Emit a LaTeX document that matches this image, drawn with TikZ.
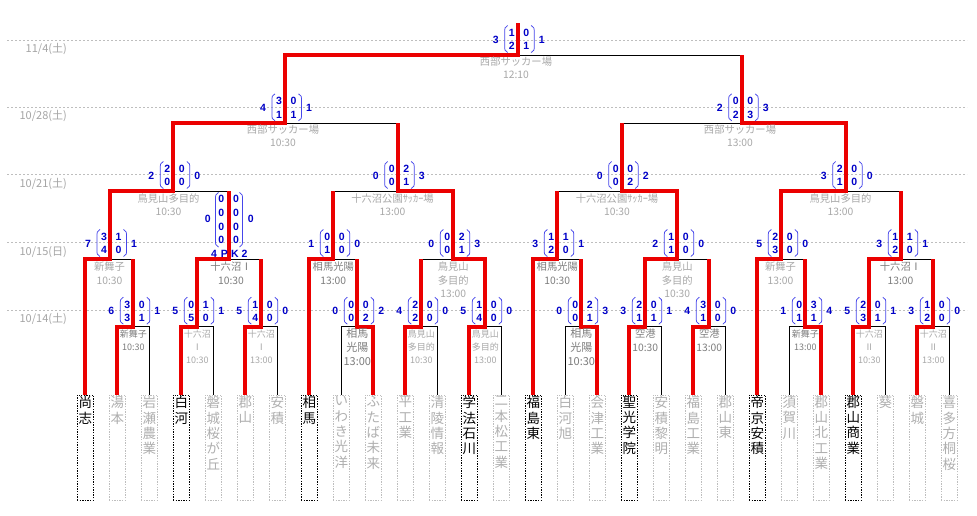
\documentclass[tikz,border=0pt]{standalone}
\usepackage{fontspec}
\newfontfamily\cjk{Noto Sans CJK JP}
\newfontfamily\numf{Liberation Sans}
\definecolor{wred}{RGB}{235,0,0}
\definecolor{sblue}{RGB}{0,0,200}
\definecolor{pblue}{RGB}{70,70,235}
\definecolor{vlight}{RGB}{168,168,168}
\definecolor{vdark}{RGB}{125,125,125}
\definecolor{dgray}{RGB}{165,165,165}
\definecolor{lgray}{RGB}{190,190,190}
\definecolor{tgray}{RGB}{175,175,175}
\tikzset{
 dline/.style={draw=lgray, line width=0.7pt, dash pattern=on 2pt off 2pt},
 blk/.style={draw=black, line width=0.9pt},
 win/.style={draw=wred, line width=3.8pt},
 sn/.style={inner sep=0pt, text=sblue, font=\numf\bfseries\fontsize{10.5}{12}\selectfont},
 par/.style={draw=pblue, line width=0.75pt},
 ven/.style={inner sep=0pt, anchor=north, align=center, text=vlight, font=\cjk\fontsize{10.3}{13.4}\selectfont},
 venD/.style={ven, text=vdark},
 vens/.style={inner sep=0pt, anchor=north, align=center, text=vlight, font=\cjk\fontsize{9}{13}\selectfont},
 vensD/.style={vens, text=vdark},
 venb/.style={inner sep=0pt, anchor=north, align=center, text=vdark, font=\cjk\fontsize{11}{14}\selectfont},
 datel/.style={inner sep=0pt, anchor=east, text=dgray, font=\cjk\fontsize{11}{12}\selectfont},
 tbox/.style={minimum width=16.5pt, minimum height=105pt, inner sep=0pt, line width=0.8pt, dash pattern=on 1.3pt off 1.3pt},
 ttxt/.style={inner sep=0pt, anchor=north, align=center, font=\cjk\fontsize{13.5}{15.3}\selectfont},
}
% #1 v, #2 yh, #3 L, #4 a, #5 b, #6 c, #7 d, #8 R, #9 id
\newcommand{\score}[9]{%
 \node[sn] (#9L) at ({#1-22},{#2-15.5}) {#3};
 \node[sn] (#9a) at ({#1-6},{#2-22}) {#4};
 \node[sn] (#9b) at ({#1-6},{#2-8.7}) {#5};
 \node[sn] (#9c) at ({#1+8.5},{#2-22}) {#6};
 \node[sn] (#9d) at ({#1+8.5},{#2-8.7}) {#7};
 \node[sn] (#9R) at ({#1+24},{#2-15.5}) {#8};
 \draw[par] ({#1-10},{#2-29.5}) .. controls ({#1-13},{#2-27.5}) .. ({#1-13},{#2-22}) -- ({#1-13},{#2-9}) .. controls ({#1-13},{#2-4.5}) .. ({#1-10},{#2-2.5});
 \draw[par] ({#1+13.5},{#2-29.5}) .. controls ({#1+16.5},{#2-27.5}) .. ({#1+16.5},{#2-22}) -- ({#1+16.5},{#2-9}) .. controls ({#1+16.5},{#2-4.5}) .. ({#1+13.5},{#2-2.5});
}
\begin{document}
\begin{tikzpicture}[x=1pt,y=-1pt]
\useasboundingbox (0,0) rectangle (977,516);
\fill[white] (0,0) rectangle (977,516);
% date lines
\draw[dline] (7,40) -- (967,40);
\draw[dline] (7,107) -- (967,107);
\draw[dline] (7,174.3) -- (967,174.3);
\draw[dline] (7,242.3) -- (967,242.3);
\draw[dline] (7,310.7) -- (967,310.7);
\node[datel] (d1) at (67,48.7) {11/4(土)};
\node[datel] (d2) at (67,116) {10/28(土)};
\node[datel] (d3) at (67,184) {10/21(土)};
\node[datel] (d4) at (67,251.7) {10/15(日)};
\node[datel] (d5) at (67,319) {10/14(土)};
% teams
\foreach \i/\nm in {0/{尚\\志},3/{白\\河},7/{相\\馬},12/{学\\法\\石\\川},14/{福\\島\\東},17/{聖\\光\\学\\院},21/{帝\\京\\安\\積},24/{郡\\山\\商\\業}}{
 \pgfmathsetmacro\xx{85.3+32*\i}
 \node[tbox,draw=black] (t\i) at (\xx,447.5) {};
 \node[ttxt,text=black] (n\i) at (\xx,396.3) {\nm};
}
\foreach \i/\nm in {1/{湯\\本},2/{岩\\瀬\\農\\業},4/{磐\\城\\桜\\が\\丘},5/{郡\\山},6/{安\\積},8/{い\\わ\\き\\光\\洋},9/{ふ\\た\\ば\\未\\来},10/{平\\工\\業},11/{清\\陵\\情\\報},13/{二\\本\\松\\工\\業},15/{白\\河\\旭},16/{会\\津\\工\\業},18/{安\\積\\黎\\明},19/{福\\島\\工\\業},20/{郡\\山\\東},22/{須\\賀\\川},23/{郡\\山\\北\\工\\業},25/{葵},26/{磐\\城},27/{喜\\多\\方\\桐\\桜}}{
 \pgfmathsetmacro\xx{85.3+32*\i}
 \node[tbox,draw=lgray] (t\i) at (\xx,447.5) {};
 \node[ttxt,text=tgray] (n\i) at (\xx,396.3) {\nm};
}
% black bracket lines
\draw[blk] (t1.north) |- (133.3,326.7) -| (t2.north);
\draw[blk] (t3.north) |- (197.3,326.7) -| (t4.north);
\draw[blk] (t5.north) |- (261.3,326.7) -| (t6.north);
\draw[blk] (t8.north) |- (357.3,326.7) -| (t9.north);
\draw[blk] (t10.north) |- (421.3,326.7) -| (t11.north);
\draw[blk] (t12.north) |- (485.3,326.7) -| (t13.north);
\draw[blk] (t15.north) |- (581.3,326.7) -| (t16.north);
\draw[blk] (t17.north) |- (645.3,326.7) -| (t18.north);
\draw[blk] (t19.north) |- (709.3,326.7) -| (t20.north);
\draw[blk] (t22.north) |- (805.3,326.7) -| (t23.north);
\draw[blk] (t24.north) |- (869.3,326.7) -| (t25.north);
\draw[blk] (t26.north) |- (933.3,326.7) -| (t27.north);
\draw[blk] (85.3,259) -- (133.3,259);
\draw[blk] (197.3,259) -- (261.3,259);
\draw[blk] (309.3,259) -- (357.3,259);
\draw[blk] (421.3,259) -- (485.3,259);
\draw[blk] (533.3,259) -- (581.3,259);
\draw[blk] (645.3,259) -- (709.3,259);
\draw[blk] (757.3,259) -- (805.3,259);
\draw[blk] (869.3,259) -- (933.3,259);
\draw[blk] (110,191) -- (229.3,191);
\draw[blk] (333.3,191) -- (453.3,191);
\draw[blk] (557.3,191) -- (677.3,191);
\draw[blk] (781.3,191) -- (901.3,191);
\draw[blk] (173.3,123.3) -- (397.7,123.3);
\draw[blk] (621.7,123.3) -- (845.7,123.3);
\draw[blk] (285,55) -- (741.7,55);
% red winning paths
\draw[win] (t0.north) |- (110,259) |- (173.3,191) |- (285,123.3) |- (517.7,55) -- (517.7,23.3);
\draw[win] (t1.north) |- (133.3,326.7) -- (133.3,259);
\draw[win] (t3.north) |- (197.3,326.7) |- (229.3,259) -- (229.3,191);
\draw[win] (t5.north) |- (261.3,326.7) -- (261.3,259);
\draw[win] (t7.north) |- (333.3,259) -- (333.3,191);
\draw[win] (t9.north) |- (357.3,326.7) -- (357.3,259);
\draw[win] (t10.north) |- (421.3,326.7) -- (421.3,259);
\draw[win] (t12.north) |- (485.3,326.7) |- (453.3,259) |- (397.7,191) -- (397.7,123.3);
\draw[win] (t14.north) |- (557.3,259) -- (557.3,191);
\draw[win] (t16.north) |- (581.3,326.7) -- (581.3,259);
\draw[win] (t17.north) |- (645.3,326.7) |- (677.3,259) |- (621.7,191) -- (621.7,123.3);
\draw[win] (t19.north) |- (709.3,326.7) -- (709.3,259);
\draw[win] (t21.north) |- (781.3,259) |- (845.7,191) |- (741.7,123.3) -- (741.7,55);
\draw[win] (t23.north) |- (805.3,326.7) -- (805.3,259);
\draw[win] (t24.north) |- (869.3,326.7) |- (901.3,259) -- (901.3,191);
\draw[win] (t26.north) |- (933.3,326.7) -- (933.3,259);
% scores
\score{517.7}{55}{3}{1}{2}{0}{1}{1}{sF}
\score{285}{123.3}{4}{3}{1}{0}{1}{1}{sSa}
\score{741.7}{123.3}{2}{0}{2}{0}{3}{3}{sSb}
\score{173.3}{191}{2}{2}{0}{0}{0}{0}{sQa}
\score{397.7}{191}{0}{0}{0}{2}{1}{3}{sQb}
\score{621.7}{191}{0}{0}{0}{0}{2}{2}{sQc}
\score{845.7}{191}{3}{2}{1}{0}{0}{0}{sQd}
\score{110}{259}{7}{3}{4}{1}{0}{1}{sNa}
\score{333.3}{259}{1}{0}{1}{0}{0}{0}{sNc}
\score{453.3}{259}{0}{0}{0}{2}{1}{3}{sNd}
\score{557.3}{259}{3}{1}{2}{1}{0}{1}{sNe}
\score{677.3}{259}{2}{1}{1}{0}{0}{0}{sNf}
\score{781.3}{259}{5}{2}{3}{0}{0}{0}{sNg}
\score{901.3}{259}{3}{1}{2}{1}{0}{1}{sNh}
\score{133.3}{326.7}{6}{3}{3}{0}{1}{1}{sMa}
\score{197.3}{326.7}{5}{0}{5}{1}{0}{1}{sMb}
\score{261.3}{326.7}{5}{1}{4}{0}{0}{0}{sMc}
\score{357.3}{326.7}{0}{0}{0}{0}{2}{2}{sMd}
\score{421.3}{326.7}{4}{2}{2}{0}{0}{0}{sMe}
\score{485.3}{326.7}{5}{1}{4}{0}{0}{0}{sMf}
\score{581.3}{326.7}{0}{0}{0}{2}{1}{3}{sMg}
\score{645.3}{326.7}{3}{2}{1}{0}{1}{1}{sMh}
\score{709.3}{326.7}{4}{3}{1}{0}{0}{0}{sMi}
\score{805.3}{326.7}{1}{0}{1}{3}{1}{4}{sMj}
\score{869.3}{326.7}{5}{2}{3}{0}{1}{1}{sMk}
\score{933.3}{326.7}{3}{1}{2}{0}{0}{0}{sMl}
% PK match
\node[sn] (pkL) at (207.7,219.3) {0};
\node[sn] (pkR) at (250.7,219.3) {0};
\foreach \r/\yy in {1/199.3,2/213,3/226.7,4/240.3}{
 \node[sn] (pka\r) at (221.3,\yy) {0};
 \node[sn] (pkb\r) at (236,\yy) {0};
}
\draw[par] (218.5,192.5) .. controls (215.5,194.5) .. (215.5,200) -- (215.5,240) .. controls (215.5,245) .. (218.5,247);
\draw[par] (239.5,192.5) .. controls (242.5,194.5) .. (242.5,200) -- (242.5,240) .. controls (242.5,245) .. (239.5,247);
\node[sn] (pk) at (229.3,253.6) {4\hspace{4pt}P\hspace{3pt}K\hspace{3pt}2};
% venues
\node[ven] (vF) at (516,56.5) {西部サッカー場\\12:10};
\node[ven] (vSa) at (283,124.5) {西部サッカー場\\10:30};
\node[ven] (vSb) at (740,124.5) {西部サッカー場\\13:00};
\node[ven] (vQa) at (168.5,193.5) {鳥見山多目的\\10:30};
\node[ven] (vQb) at (392.5,193.5) {十六沼公園ｻｯｶｰ場\\13:00};
\node[ven] (vQc) at (617,193.5) {十六沼公園ｻｯｶｰ場\\10:30};
\node[ven] (vQd) at (840.5,193.5) {鳥見山多目的\\13:00};
\node[ven] (vNa) at (109.5,262) {新舞子\\10:30};
\node[venD] (vNb) at (231,262) {十六沼Ⅰ\\10:30};
\node[venD] (vNc) at (333.3,262) {相馬光陽\\13:00};
\node[ven] (vNd) at (453.3,262) {鳥見山\\多目的\\13:00};
\node[venD] (vNe) at (557.3,262) {相馬光陽\\10:30};
\node[ven] (vNf) at (677.3,262) {鳥見山\\多目的\\10:30};
\node[ven] (vNg) at (780.5,262) {新舞子\\13:00};
\node[venD] (vNh) at (900.5,262) {十六沼Ⅰ\\13:00};
\node[vensD] (vMa) at (133.3,329.5) {新舞子\\10:30};
\node[vens] (vMb) at (197.3,329.5) {十六沼\\Ⅰ\\10:30};
\node[vens] (vMc) at (261.3,329.5) {十六沼\\Ⅰ\\13:00};
\node[venb] (vMd) at (357.3,328.5) {相馬\\光陽\\13:00};
\node[vens] (vMe) at (421.3,329.5) {鳥見山\\多目的\\10:30};
\node[vens] (vMf) at (485.3,329.5) {鳥見山\\多目的\\13:00};
\node[venb] (vMg) at (581.3,328.5) {相馬\\光陽\\10:30};
\node[venD] (vMh) at (645.3,329) {空港\\10:30};
\node[venD] (vMi) at (709.3,329) {空港\\13:00};
\node[vensD] (vMj) at (805.3,329.5) {新舞子\\13:00};
\node[vens] (vMk) at (869.3,329.5) {十六沼\\Ⅱ\\10:30};
\node[vens] (vMl) at (933.3,329.5) {十六沼\\Ⅱ\\13:00};
\end{tikzpicture}
\end{document}
